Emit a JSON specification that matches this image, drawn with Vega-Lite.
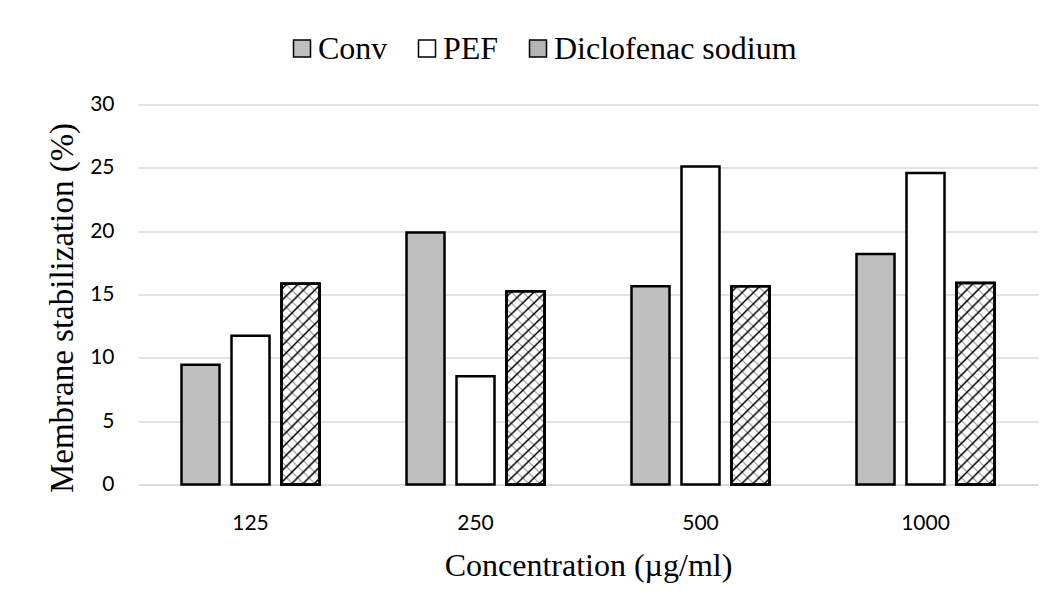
{
  "$schema": "https://vega.github.io/schema/vega-lite/v6.json",
  "autosize": "none",
  "width": 900,
  "height": 380,
  "padding": {"left": 138, "top": 104.5, "right": 16, "bottom": 121.5},
  "background": "white",
  "config": {"view": {"stroke": null}},
  "data": {"values": [
    {"conc": "125", "group": "Conv", "value": 9.45},
    {"conc": "125", "group": "PEF", "value": 11.75},
    {"conc": "125", "group": "Diclofenac sodium", "value": 15.85},
    {"conc": "250", "group": "Conv", "value": 19.9},
    {"conc": "250", "group": "PEF", "value": 8.55},
    {"conc": "250", "group": "Diclofenac sodium", "value": 15.25},
    {"conc": "500", "group": "Conv", "value": 15.65},
    {"conc": "500", "group": "PEF", "value": 25.1},
    {"conc": "500", "group": "Diclofenac sodium", "value": 15.65},
    {"conc": "1000", "group": "Conv", "value": 18.2},
    {"conc": "1000", "group": "PEF", "value": 24.6},
    {"conc": "1000", "group": "Diclofenac sodium", "value": 15.9}
  ]},
  "encoding": {
    "x": {
      "field": "conc", "type": "nominal", "sort": ["125", "250", "500", "1000"],
      "scale": {"paddingInner": 0, "paddingOuter": 0},
      "axis": {
        "labelAngle": 0, "domain": true, "domainColor": "#d9d9d9", "domainWidth": 1.5,
        "ticks": false, "labelFont": "Lato", "labelFontSize": 21, "labelColor": "#000000",
        "labelPadding": 28,
        "title": "Concentration (µg/ml)", "titleFont": "Liberation Serif", "titleFontSize": 32,
        "titleFontWeight": "normal", "titleColor": "#000000",
        "titleBaseline": "alphabetic", "titleY": 90.5
      }
    },
    "xOffset": {
      "field": "group", "type": "nominal", "sort": ["Conv", "PEF", "Diclofenac sodium"],
      "scale": {"paddingInner": 0.24, "paddingOuter": 0.87}
    },
    "y": {
      "field": "value", "type": "quantitative",
      "scale": {"domain": [0, 30], "nice": false},
      "axis": {
        "values": [0, 5, 10, 15, 20, 25, 30], "grid": true, "gridColor": "#d9d9d9", "gridWidth": 1.5,
        "domain": false, "ticks": false, "labelFont": "Lato", "labelFontSize": 21,
        "labelColor": "#000000", "labelPadding": 24,
        "title": "Membrane stabilization (%)", "titleFont": "Liberation Serif", "titleFontSize": 33,
        "titleFontWeight": "normal", "titleColor": "#000000", "titleAngle": -90,
        "titleBaseline": "alphabetic", "titleX": -66, "titleY": 203, "titleAlign": "center"
      }
    }
  },
  "layer": [
    {
      "mark": {"type": "bar", "stroke": "#000000", "strokeWidth": 2.5},
      "encoding": {
        "fill": {
          "field": "group", "type": "nominal", "sort": ["Conv", "PEF", "Diclofenac sodium"],
          "scale": {"domain": ["Conv", "PEF", "Diclofenac sodium"], "range": ["#bfbfbf", "#ffffff", "#b4b4b4"]},
          "legend": {
            "title": null, "orient": "none", "direction": "horizontal",
            "legendX": 148, "legendY": -72,
            "symbolType": "square", "symbolSize": 289, "symbolStrokeColor": "#000000",
            "symbolStrokeWidth": 1.5, "symbolOpacity": 1,
            "labelFont": "Liberation Serif", "labelFontSize": 32, "labelColor": "#000000",
            "labelOffset": 0, "columnPadding": 23, "labelLimit": 400
          }
        }
      }
    },
    {
      "transform": [{"filter": "datum.group === 'Diclofenac sodium'"}],
      "mark": {
        "type": "bar", "stroke": "#000000", "strokeWidth": 2.5,
        "fill": {
          "gradient": "linear", "x1": 0, "y1": 0, "x2": 0.218, "y2": 1.147,
          "stops": [
            {"offset": 0, "color": "#ffffff"},
            {"offset": 0.0148, "color": "#ffffff"}, {"offset": 0.0238, "color": "#000000"}, {"offset": 0.0328, "color": "#ffffff"},
            {"offset": 0.0624, "color": "#ffffff"}, {"offset": 0.0714, "color": "#000000"}, {"offset": 0.0804, "color": "#ffffff"},
            {"offset": 0.1100, "color": "#ffffff"}, {"offset": 0.1190, "color": "#000000"}, {"offset": 0.1280, "color": "#ffffff"},
            {"offset": 0.1577, "color": "#ffffff"}, {"offset": 0.1667, "color": "#000000"}, {"offset": 0.1757, "color": "#ffffff"},
            {"offset": 0.2053, "color": "#ffffff"}, {"offset": 0.2143, "color": "#000000"}, {"offset": 0.2233, "color": "#ffffff"},
            {"offset": 0.2529, "color": "#ffffff"}, {"offset": 0.2619, "color": "#000000"}, {"offset": 0.2709, "color": "#ffffff"},
            {"offset": 0.3005, "color": "#ffffff"}, {"offset": 0.3095, "color": "#000000"}, {"offset": 0.3185, "color": "#ffffff"},
            {"offset": 0.3481, "color": "#ffffff"}, {"offset": 0.3571, "color": "#000000"}, {"offset": 0.3661, "color": "#ffffff"},
            {"offset": 0.3958, "color": "#ffffff"}, {"offset": 0.4048, "color": "#000000"}, {"offset": 0.4138, "color": "#ffffff"},
            {"offset": 0.4434, "color": "#ffffff"}, {"offset": 0.4524, "color": "#000000"}, {"offset": 0.4614, "color": "#ffffff"},
            {"offset": 0.4910, "color": "#ffffff"}, {"offset": 0.5000, "color": "#000000"}, {"offset": 0.5090, "color": "#ffffff"},
            {"offset": 0.5386, "color": "#ffffff"}, {"offset": 0.5476, "color": "#000000"}, {"offset": 0.5566, "color": "#ffffff"},
            {"offset": 0.5862, "color": "#ffffff"}, {"offset": 0.5952, "color": "#000000"}, {"offset": 0.6042, "color": "#ffffff"},
            {"offset": 0.6339, "color": "#ffffff"}, {"offset": 0.6429, "color": "#000000"}, {"offset": 0.6519, "color": "#ffffff"},
            {"offset": 0.6815, "color": "#ffffff"}, {"offset": 0.6905, "color": "#000000"}, {"offset": 0.6995, "color": "#ffffff"},
            {"offset": 0.7291, "color": "#ffffff"}, {"offset": 0.7381, "color": "#000000"}, {"offset": 0.7471, "color": "#ffffff"},
            {"offset": 0.7767, "color": "#ffffff"}, {"offset": 0.7857, "color": "#000000"}, {"offset": 0.7947, "color": "#ffffff"},
            {"offset": 0.8243, "color": "#ffffff"}, {"offset": 0.8333, "color": "#000000"}, {"offset": 0.8423, "color": "#ffffff"},
            {"offset": 0.8720, "color": "#ffffff"}, {"offset": 0.8810, "color": "#000000"}, {"offset": 0.8900, "color": "#ffffff"},
            {"offset": 0.9196, "color": "#ffffff"}, {"offset": 0.9286, "color": "#000000"}, {"offset": 0.9376, "color": "#ffffff"},
            {"offset": 0.9672, "color": "#ffffff"}, {"offset": 0.9762, "color": "#000000"}, {"offset": 0.9852, "color": "#ffffff"},
            {"offset": 1, "color": "#ffffff"}
          ]
        }
      }
    },
    {
      "transform": [{"filter": "datum.group === 'Diclofenac sodium'"}],
      "mark": {
        "type": "bar", "stroke": "#000000", "strokeWidth": 2.5,
        "fill": {
          "gradient": "linear", "x1": 1, "y1": 0, "x2": 0.782, "y2": 1.147,
          "stops": [
            {"offset": 0, "color": "rgba(0,0,0,0)"},
            {"offset": 0.0408, "color": "rgba(0,0,0,0)"}, {"offset": 0.0476, "color": "rgba(0,0,0,0.38)"}, {"offset": 0.0544, "color": "rgba(0,0,0,0)"},
            {"offset": 0.0884, "color": "rgba(0,0,0,0)"}, {"offset": 0.0952, "color": "rgba(0,0,0,0.38)"}, {"offset": 0.1020, "color": "rgba(0,0,0,0)"},
            {"offset": 0.1361, "color": "rgba(0,0,0,0)"}, {"offset": 0.1429, "color": "rgba(0,0,0,0.38)"}, {"offset": 0.1497, "color": "rgba(0,0,0,0)"},
            {"offset": 0.1837, "color": "rgba(0,0,0,0)"}, {"offset": 0.1905, "color": "rgba(0,0,0,0.38)"}, {"offset": 0.1973, "color": "rgba(0,0,0,0)"},
            {"offset": 0.2313, "color": "rgba(0,0,0,0)"}, {"offset": 0.2381, "color": "rgba(0,0,0,0.38)"}, {"offset": 0.2449, "color": "rgba(0,0,0,0)"},
            {"offset": 0.2789, "color": "rgba(0,0,0,0)"}, {"offset": 0.2857, "color": "rgba(0,0,0,0.38)"}, {"offset": 0.2925, "color": "rgba(0,0,0,0)"},
            {"offset": 0.3265, "color": "rgba(0,0,0,0)"}, {"offset": 0.3333, "color": "rgba(0,0,0,0.38)"}, {"offset": 0.3401, "color": "rgba(0,0,0,0)"},
            {"offset": 0.3741, "color": "rgba(0,0,0,0)"}, {"offset": 0.3810, "color": "rgba(0,0,0,0.38)"}, {"offset": 0.3878, "color": "rgba(0,0,0,0)"},
            {"offset": 0.4218, "color": "rgba(0,0,0,0)"}, {"offset": 0.4286, "color": "rgba(0,0,0,0.38)"}, {"offset": 0.4354, "color": "rgba(0,0,0,0)"},
            {"offset": 0.4694, "color": "rgba(0,0,0,0)"}, {"offset": 0.4762, "color": "rgba(0,0,0,0.38)"}, {"offset": 0.4830, "color": "rgba(0,0,0,0)"},
            {"offset": 0.5170, "color": "rgba(0,0,0,0)"}, {"offset": 0.5238, "color": "rgba(0,0,0,0.38)"}, {"offset": 0.5306, "color": "rgba(0,0,0,0)"},
            {"offset": 0.5646, "color": "rgba(0,0,0,0)"}, {"offset": 0.5714, "color": "rgba(0,0,0,0.38)"}, {"offset": 0.5782, "color": "rgba(0,0,0,0)"},
            {"offset": 0.6122, "color": "rgba(0,0,0,0)"}, {"offset": 0.6190, "color": "rgba(0,0,0,0.38)"}, {"offset": 0.6258, "color": "rgba(0,0,0,0)"},
            {"offset": 0.6599, "color": "rgba(0,0,0,0)"}, {"offset": 0.6667, "color": "rgba(0,0,0,0.38)"}, {"offset": 0.6735, "color": "rgba(0,0,0,0)"},
            {"offset": 0.7075, "color": "rgba(0,0,0,0)"}, {"offset": 0.7143, "color": "rgba(0,0,0,0.38)"}, {"offset": 0.7211, "color": "rgba(0,0,0,0)"},
            {"offset": 0.7551, "color": "rgba(0,0,0,0)"}, {"offset": 0.7619, "color": "rgba(0,0,0,0.38)"}, {"offset": 0.7687, "color": "rgba(0,0,0,0)"},
            {"offset": 0.8027, "color": "rgba(0,0,0,0)"}, {"offset": 0.8095, "color": "rgba(0,0,0,0.38)"}, {"offset": 0.8163, "color": "rgba(0,0,0,0)"},
            {"offset": 0.8503, "color": "rgba(0,0,0,0)"}, {"offset": 0.8571, "color": "rgba(0,0,0,0.38)"}, {"offset": 0.8639, "color": "rgba(0,0,0,0)"},
            {"offset": 0.8980, "color": "rgba(0,0,0,0)"}, {"offset": 0.9048, "color": "rgba(0,0,0,0.38)"}, {"offset": 0.9116, "color": "rgba(0,0,0,0)"},
            {"offset": 0.9456, "color": "rgba(0,0,0,0)"}, {"offset": 0.9524, "color": "rgba(0,0,0,0.38)"}, {"offset": 0.9592, "color": "rgba(0,0,0,0)"},
            {"offset": 1, "color": "rgba(0,0,0,0)"}
          ]
        }
      }
    }
  ]
}
